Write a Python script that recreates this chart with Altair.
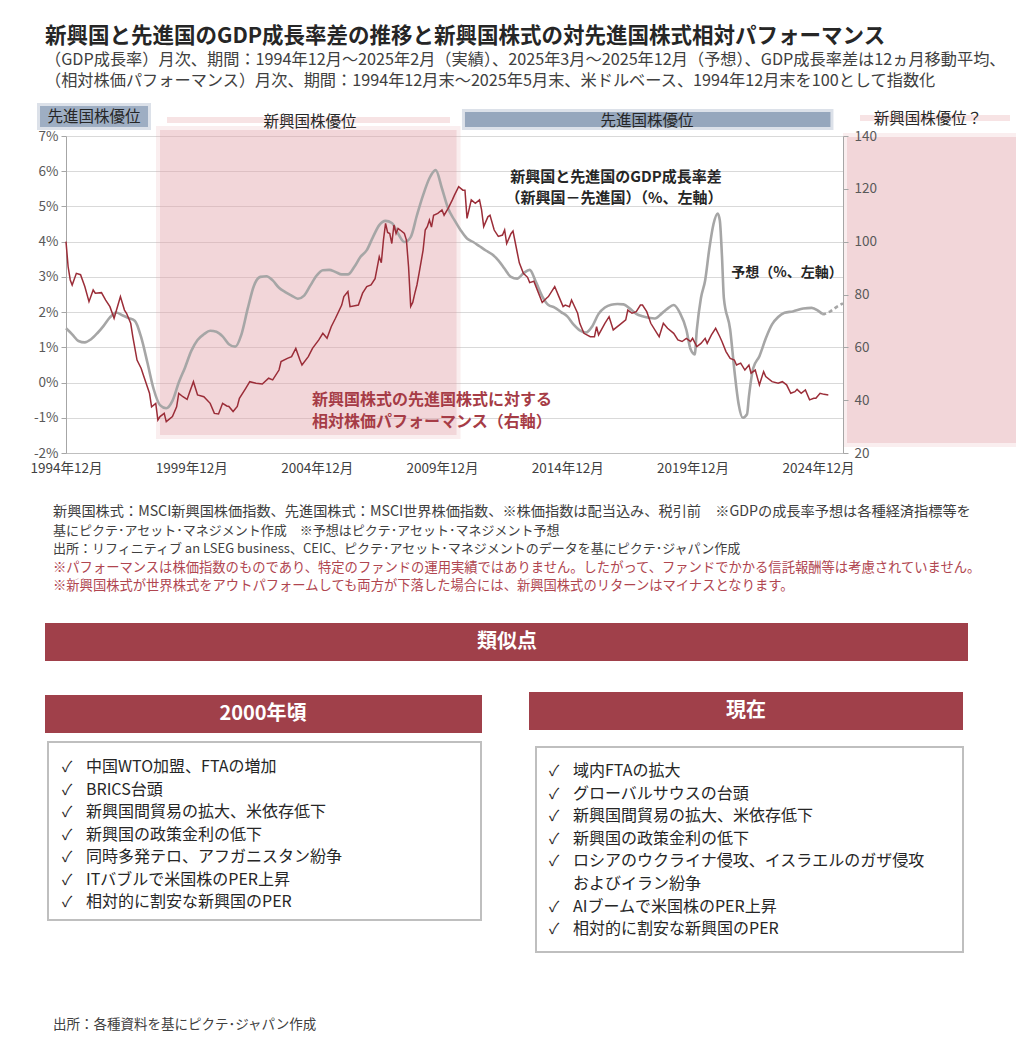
import altair as alt
import pandas as pd

FONT = "Noto Sans CJK JP"
RED = "#9b2d38"
RED_T = "#a63c46"
GRAY = "#a6a6a6"
BANNER = "#a0404a"
PINK = "#e2a0a6"
BLUE = "#8a9cb5"
TXT = "#262626"

# ---------------- data ----------------
# relative performance of EM vs DM equities (right axis, 1994-12 = 100)
rel_dates = [
    "1994-12", "1995-01", "1995-02", "1995-03", "1995-05", "1995-07", "1995-09", "1995-11", "1996-01", "1996-02",
    "1996-05", "1996-07", "1996-09", "1996-11", "1997-02", "1997-04", "1997-05", "1997-07", "1997-08", "1997-10",
    "1997-12", "1998-01", "1998-04", "1998-05", "1998-07", "1998-08", "1998-09", "1998-11", "1998-12", "1999-03",
    "1999-05", "1999-06", "1999-08", "1999-10", "1999-11", "2000-01", "2000-03", "2000-06", "2000-09", "2000-11",
    "2001-01", "2001-03", "2001-05", "2001-06", "2001-08", "2001-10", "2001-11", "2002-02", "2002-04", "2002-07",
    "2002-10", "2003-01", "2003-03", "2003-06", "2003-07", "2003-10", "2003-12", "2004-02", "2004-04", "2004-05",
    "2004-08", "2004-10", "2005-01", "2005-03", "2005-05", "2005-07", "2005-09", "2005-12", "2006-01", "2006-03",
    "2006-04", "2006-08", "2006-10", "2006-12", "2007-02", "2007-04", "2007-06", "2007-07", "2007-08", "2007-09",
    "2007-10", "2007-11", "2007-12", "2008-01", "2008-02", "2008-03", "2008-04", "2008-06", "2008-07", "2008-08",
    "2008-09", "2008-10", "2008-11", "2008-12", "2009-01", "2009-03", "2009-04", "2009-05", "2009-06", "2009-07",
    "2009-08", "2009-10", "2009-12", "2010-01", "2010-03", "2010-05", "2010-06", "2010-08", "2010-10", "2010-11",
    "2010-12", "2011-02", "2011-04", "2011-06", "2011-07", "2011-08", "2011-10", "2011-11", "2012-01", "2012-03",
    "2012-05", "2012-06", "2012-07", "2012-09", "2012-10", "2012-12", "2013-01", "2013-03", "2013-05", "2013-06",
    "2013-08", "2013-10", "2013-12", "2014-02", "2014-03", "2014-06", "2014-08", "2014-10", "2014-11", "2015-01",
    "2015-02", "2015-05", "2015-06", "2015-08", "2015-11", "2016-01", "2016-02", "2016-03", "2016-06", "2016-08",
    "2016-10", "2017-01", "2017-04", "2017-05", "2017-07", "2017-09", "2017-11", "2017-12", "2018-02", "2018-04",
    "2018-07", "2018-08", "2018-10", "2018-12", "2019-03", "2019-05", "2019-07", "2019-09", "2019-11", "2019-12",
    "2020-02", "2020-04", "2020-06", "2020-07", "2020-09", "2020-11", "2021-01", "2021-02", "2021-04", "2021-06",
    "2021-08", "2021-09", "2021-11", "2022-01", "2022-03", "2022-04", "2022-06", "2022-08", "2022-10", "2022-11",
    "2023-02", "2023-05", "2023-07", "2023-09", "2023-11", "2024-01", "2024-02", "2024-04", "2024-06", "2024-08",
    "2024-10", "2024-11", "2025-01", "2025-03", "2025-05",
]
rel_values = [
    100, 90.5, 85.5, 83.6, 88, 87.5, 83, 77.3, 81.7, 80.5,
    80.7, 77.9, 75.4, 71, 79.2, 74.1, 72.9, 69.1, 64, 55.2,
    52, 49.5, 42.6, 37.5, 38.8, 32.5, 33.8, 35, 31.9, 33.8,
    37.5, 42.6, 41.3, 40.3, 42.6, 47, 42, 41.3, 38.8, 35,
    34.8, 38.8, 37.8, 37.6, 35.7, 37.6, 40.7, 44.5, 47, 46.4,
    46.1, 48.3, 47.7, 51.4, 54.6, 55.8, 56.5, 59.6, 55.2, 53.3,
    56.5, 59.6, 62.8, 65.3, 63.4, 67.8, 71, 76, 79.2, 81.1,
    75.4, 76, 80.5, 83, 83.6, 86, 94.3, 92, 100.6, 106.9,
    103.5, 103.1, 99.3, 106.3, 103.1, 105, 104.4, 103.1, 100.6, 90.5,
    75.5, 77, 80.5, 83.6, 88, 96.8, 104.4, 105.7, 108.2, 105.5,
    110, 110.7, 112, 110, 112.6, 115.8, 117.6, 120.8, 119.5, 119.5,
    108.8, 115.8, 114.5, 115.8, 112, 105.7, 109.4, 110, 104.4, 102,
    102.5, 104.4, 99.3, 103, 104, 96, 92, 88, 86.5, 84.5,
    85, 81, 77, 78.6, 79.2, 83, 79.2, 75.4, 76, 75.4,
    77.9, 72.9, 69.1, 65.3, 64, 64, 67.8, 64.7, 69.1, 71.6,
    66.6, 68.5, 70.4, 74.1, 72.9, 73.5, 76, 76, 73.5, 69.1,
    65.3, 64, 69.1, 67.2, 65.3, 62.8, 62.2, 63.4, 62.2, 63.4,
    60.3, 61.5, 63.4, 61.5, 64.7, 67.2, 64, 62.2, 58.4, 55.8,
    55.2, 53.3, 54, 51.4, 53.3, 50.2, 51.4, 45.8, 50.8, 48.9,
    47, 46.4, 47, 45.8, 42.6, 43.2, 44.1, 42.6, 43.9, 40.1,
    40.7, 40.7, 42.6, 42.2, 42,
]

# GDP growth differential EM - DM, % (left axis), actual
gdp_dates = [
    "1994-12", "1995-03", "1995-06", "1995-09", "1995-12", "1996-03", "1996-06", "1996-09", "1996-12", "1997-03",
    "1997-06", "1997-09", "1997-12", "1998-03", "1998-06", "1998-09", "1998-12", "1999-03", "1999-06", "1999-09",
    "1999-12", "2000-03", "2000-06", "2000-09", "2000-12", "2001-03", "2001-06", "2001-09", "2001-12", "2002-03",
    "2002-06", "2002-09", "2002-12", "2003-03", "2003-06", "2003-09", "2003-12", "2004-03", "2004-06", "2004-09",
    "2004-12", "2005-03", "2005-06", "2005-09", "2005-12", "2006-03", "2006-06", "2006-09", "2006-12", "2007-03",
    "2007-06", "2007-09", "2007-12", "2008-03", "2008-06", "2008-09", "2008-12", "2009-03", "2009-06", "2009-09",
    "2009-12", "2010-03", "2010-06", "2010-09", "2010-12", "2011-03", "2011-06", "2011-09", "2011-12", "2012-03",
    "2012-06", "2012-09", "2012-12", "2013-03", "2013-06", "2013-09", "2013-12", "2014-03", "2014-06", "2014-09",
    "2014-12", "2015-03", "2015-06", "2015-09", "2015-12", "2016-03", "2016-06", "2016-09", "2016-12", "2017-03",
    "2017-06", "2017-09", "2017-12", "2018-03", "2018-06", "2018-09", "2018-12", "2019-03", "2019-06", "2019-09",
    "2019-11", "2020-01", "2020-02", "2020-04", "2020-06", "2020-08", "2020-10", "2020-12", "2021-01", "2021-02",
    "2021-03", "2021-06", "2021-08", "2021-10", "2021-12", "2022-02", "2022-03", "2022-05", "2022-08", "2022-11",
    "2023-02", "2023-05", "2023-08", "2023-12", "2024-05", "2024-09", "2024-12", "2025-02",
]
gdp_values = [
    1.54, 1.37, 1.18, 1.14, 1.23, 1.40, 1.61, 1.85, 1.99, 1.91,
    1.83, 1.75, 1.28, 0.57, -0.19, -0.64, -0.73, -0.52, 0.0, 0.43,
    0.90, 1.21, 1.37, 1.47, 1.44, 1.31, 1.09, 1.02, 1.37, 2.09,
    2.75, 3.0, 3.02, 2.9, 2.69, 2.57, 2.47, 2.38, 2.47, 2.76,
    3.04, 3.19, 3.20, 3.14, 3.07, 3.07, 3.28, 3.57, 3.76, 4.13,
    4.47, 4.59, 4.53, 4.23, 3.99, 4.13, 4.75, 5.32, 5.80, 6.03,
    5.51, 4.94, 4.61, 4.32, 4.09, 3.99, 3.87, 3.75, 3.64, 3.47,
    3.23, 3.0, 2.95, 3.1, 3.2, 2.85, 2.45, 2.2, 2.13, 2.0,
    1.88, 1.65, 1.48, 1.42, 1.6, 1.95, 2.13, 2.21, 2.23, 2.22,
    2.1, 1.95, 1.88, 1.84, 1.82, 1.95, 2.1, 2.2, 1.97, 1.5,
    0.95, 0.8, 1.5, 2.4, 2.9, 3.8, 4.5, 4.8, 4.6, 3.6,
    2.4, 1.5, 0.35, -0.6, -1.0, -0.9, -0.4, 0.4, 0.75, 1.25,
    1.65, 1.86, 1.98, 2.02, 2.1, 2.12, 2.04, 1.95,
]
# forecast
fc_dates = ["2025-02", "2025-03", "2025-06", "2025-09", "2025-12"]
fc_values = [1.95, 1.94, 2.02, 2.15, 2.25]

em_period = ["1998-09", "2010-07"]   # 新興国株優位
dm_period = ["2010-11", "2025-06"]   # 先進国株優位

x_tick_years = [1994, 1999, 2004, 2009, 2014, 2019, 2024]
left_ticks = [-2, -1, 0, 1, 2, 3, 4, 5, 6, 7]
right_ticks = [20, 40, 60, 80, 100, 120, 140]

# ---------------- texts ----------------
title_text = "新興国と先進国のGDP成長率差の推移と新興国株式の対先進国株式相対パフォーマンス"
subtitle_lines = [
    "（GDP成長率）月次、期間：1994年12月～2025年2月（実績）、2025年3月～2025年12月（予想）、GDP成長率差は12ヵ月移動平均、",
    "（相対株価パフォーマンス）月次、期間：1994年12月末～2025年5月末、米ドルベース、1994年12月末を100として指数化",
]
note_lines = [
    "新興国株式：MSCI新興国株価指数、先進国株式：MSCI世界株価指数、※株価指数は配当込み、税引前　※GDPの成長率予想は各種経済指標等を",
    "基にピクテ･アセット･マネジメント作成　※予想はピクテ･アセット･マネジメント予想",
    "出所：リフィニティブ an LSEG business、CEIC、ピクテ･アセット･マネジメントのデータを基にピクテ･ジャパン作成",
]
note_sizes = [14.2, 13, 13]
warn_lines = [
    "※パフォーマンスは株価指数のものであり、特定のファンドの運用実績ではありません。したがって、ファンドでかかる信託報酬等は考慮されていません。",
    "※新興国株式が世界株式をアウトパフォームしても両方が下落した場合には、新興国株式のリターンはマイナスとなります。",
]
left_items = [
    "中国WTO加盟、FTAの増加",
    "BRICS台頭",
    "新興国間貿易の拡大、米依存低下",
    "新興国の政策金利の低下",
    "同時多発テロ、アフガニスタン紛争",
    "ITバブルで米国株のPER上昇",
    "相対的に割安な新興国のPER",
]
right_items = [
    "域内FTAの拡大",
    "グローバルサウスの台頭",
    "新興国間貿易の拡大、米依存低下",
    "新興国の政策金利の低下",
    "ロシアのウクライナ侵攻、イスラエルのガザ侵攻",
    "およびイラン紛争",
    "AIブームで米国株のPER上昇",
    "相対的に割安な新興国のPER",
]
right_checks = [True, True, True, True, True, False, True, True]
footer_text = "出所：各種資料を基にピクテ･ジャパン作成"


def ts(s):
    return pd.Timestamp(s + "-01")


rel_df = pd.DataFrame({"date": [ts(d) for d in rel_dates], "v": rel_values})
gdp_df = pd.DataFrame({"date": [ts(d) for d in gdp_dates], "v": gdp_values})
fc_df = pd.DataFrame({"date": [ts(d) for d in fc_dates], "v": fc_values})
em_df = pd.DataFrame({"s": [ts(em_period[0])], "e": [ts(em_period[1])]})
dm_df = pd.DataFrame({"s": [ts(dm_period[0])], "e": [ts(dm_period[1])]})
one = pd.DataFrame({"k": [0]})

X_SCALE = alt.Scale(domain=[alt.DateTime(year=1994, month=12, date=1),
                            alt.DateTime(year=2025, month=12, date=1)])
X_AXIS = alt.Axis(title=None,
                  values=[alt.DateTime(year=y, month=12, date=1) for y in x_tick_years],
                  format="%Y年%m月", labelFont=FONT, labelFontSize=13.5, labelColor="#404040",
                  ticks=False, domainColor="#bfbfbf", grid=False, labelPadding=8,
                  labelFlush=False, labelOverlap=False)
Y_LEFT = alt.Y("v:Q", scale=alt.Scale(domain=[-2, 7], nice=False, zero=False),
               axis=alt.Axis(title=None, values=left_ticks, labelExpr="datum.value + '%'",
                             orient="left", grid=True, gridColor="#d9d9d9", domainColor="#a6a6a6",
                             tickColor="#a6a6a6", tickSize=5, labelFont=FONT, labelFontSize=13.5,
                             labelColor="#595959", labelPadding=3))
Y_RIGHT = alt.Y("v:Q", scale=alt.Scale(domain=[20, 140], nice=False, zero=False),
                axis=alt.Axis(title=None, values=right_ticks, orient="right", grid=False,
                              domainColor="#a6a6a6", tickColor="#a6a6a6", tickSize=5,
                              labelFont=FONT, labelFontSize=13.5, labelColor="#595959",
                              labelPadding=6, zindex=1))


def xdate(field):
    return alt.X(field, scale=X_SCALE, axis=X_AXIS)


def prect(x, x2, y, y2, **kw):
    return alt.Chart(one).mark_rect(**kw).encode(
        x=alt.value(x), x2=alt.value(x2), y=alt.value(y), y2=alt.value(y2))


def ptext(x, y, t, size, color=TXT, weight="normal", align="left"):
    return alt.Chart(one).mark_text(font=FONT, fontSize=size, color=color, fontWeight=weight,
                                    align=align, baseline="middle").encode(
        x=alt.value(x), y=alt.value(y), text=alt.value(t))


layers = []

# shaded periods (soft edges by two stacked layers)
layers.append(alt.Chart(em_df).mark_rect(color=PINK, opacity=0.18, xOffset=-4, x2Offset=4)
              .encode(x=xdate("s:T"), x2="e:T", y=alt.value(-10), y2=alt.value(303)))
layers.append(alt.Chart(em_df).mark_rect(color=PINK, opacity=0.3)
              .encode(x=xdate("s:T"), x2="e:T", y=alt.value(-6), y2=alt.value(299)))
layers.append(prect(777, 956, -3, 311, color=PINK, opacity=0.18))
layers.append(prect(781, 952, 1, 307, color=PINK, opacity=0.3))

# faint pink label bars
layers.append(prect(101, 384, -19, -13, color="#f7e3e4"))
layers.append(prect(794, 944, -21, -15, color="#f7e3e4"))

# blue banners
layers.append(prect(-29, 85, -33, -6, color=BLUE, opacity=0.3))
layers.append(prect(-26, 82, -30, -9, color=BLUE, opacity=0.75))
layers.append(alt.Chart(dm_df).mark_rect(color=BLUE, opacity=0.3, xOffset=-3, x2Offset=3)
              .encode(x=xdate("s:T"), x2="e:T", y=alt.value(-27), y2=alt.value(-6)))
layers.append(alt.Chart(dm_df).mark_rect(color=BLUE, opacity=0.85)
              .encode(x=xdate("s:T"), x2="e:T", y=alt.value(-24), y2=alt.value(-9)))

# lines
gray = alt.Chart(gdp_df).mark_line(color=GRAY, strokeWidth=2.6, interpolate="monotone").encode(
    x=xdate("date:T"), y=Y_LEFT)
fc = alt.Chart(fc_df).mark_line(color=GRAY, strokeWidth=2.6, strokeDash=[4, 3]).encode(
    x=xdate("date:T"), y=Y_LEFT)
layers.append(alt.layer(gray, fc))
layers.append(alt.Chart(rel_df).mark_line(color=RED, strokeWidth=1.5).encode(
    x=xdate("date:T"), y=Y_RIGHT))

# banner labels
layers.append(ptext(28, -19, "先進国株優位", 15.5, align="center"))
layers.append(ptext(244, -14, "新興国株優位", 15.5, align="center"))
layers.append(ptext(581, -15, "先進国株優位", 15.5, align="center"))
layers.append(ptext(862, -17, "新興国株優位？", 15.5, align="center"))

# annotations
layers.append(ptext(550, 41, "新興国と先進国のGDP成長率差", 15, weight="bold", align="center"))
layers.append(ptext(548, 62, "（新興国－先進国）（%、左軸）", 15, weight="bold", align="center"))
layers.append(ptext(721, 137, "予想（%、左軸）", 14, weight="bold", align="center"))
layers.append(ptext(246, 264, "新興国株式の先進国株式に対する", 16, RED_T, "bold"))
layers.append(ptext(246, 286, "相対株価パフォーマンス（右軸）", 16, RED_T, "bold"))

# title & subtitles
layers.append(ptext(-21, -99, title_text, 21.5, "#262626", "bold"))
for i, line in enumerate(subtitle_lines):
    layers.append(ptext(-21, -76 + i * 21, line, 16.2, "#404040"))

# notes
for i, line in enumerate(note_lines):
    layers.append(ptext(-13, 376 + i * 18.5, line, note_sizes[i], "#404040"))
for i, line in enumerate(warn_lines):
    layers.append(ptext(-13, 431.5 + i * 18.5, line, 13.3, "#b0454f"))

# bottom panel
layers.append(prect(-21, 902, 487, 525, color=BANNER))
layers.append(ptext(441, 506, "類似点", 20, "white", "bold", "center"))
layers.append(prect(-21, 416, 559, 597, color=BANNER))
layers.append(ptext(197, 578, "2000年頃", 20, "white", "bold", "center"))
layers.append(prect(463, 897, 556, 594, color=BANNER))
layers.append(ptext(680, 575, "現在", 20, "white", "bold", "center"))
layers.append(prect(-18, 415, 606, 784, fill="white", stroke="#bfbfbf", strokeWidth=2))
layers.append(prect(470, 897, 611, 816, fill="white", stroke="#bfbfbf", strokeWidth=2))
for i, t in enumerate(left_items):
    y = 631 + i * 22.5
    layers.append(ptext(-4, y, "✓", 15))
    layers.append(ptext(20, y, t, 16))
for i, t in enumerate(right_items):
    y = 635 + i * 22.6
    if right_checks[i]:
        layers.append(ptext(483, y, "✓", 15))
    layers.append(ptext(507, y, t, 16))
layers.append(ptext(-13, 889, footer_text, 13.5, "#404040"))

chart = (
    alt.layer(*layers)
    .resolve_scale(y="independent")
    .properties(width=777, height=317,
                padding={"left": 58, "top": 128, "right": 173, "bottom": 582},
                autosize=alt.AutoSizeParams(type="none"))
    .configure_view(stroke="transparent")
)

chart.save("out.html", embed_options={"renderer": "svg", "actions": False})
